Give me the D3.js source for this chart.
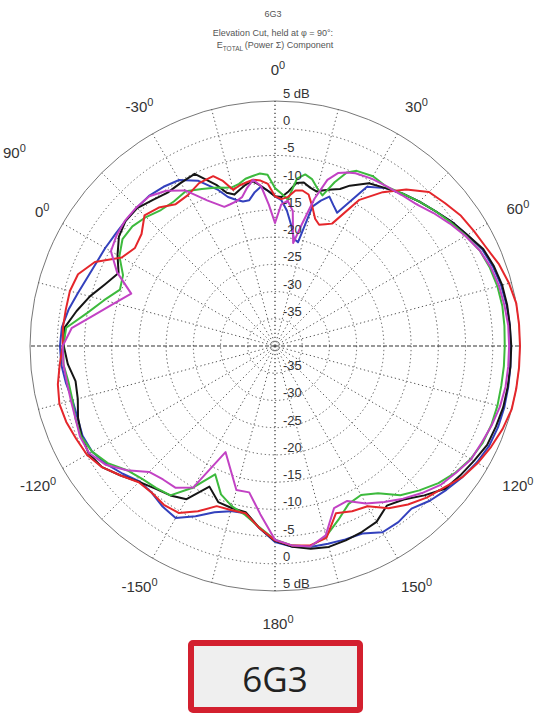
<!DOCTYPE html>
<html><head><meta charset="utf-8">
<script src="https://cdn.jsdelivr.net/npm/d3@7"></script>
<style>html,body{margin:0;padding:0;background:#fff;}svg{display:block;}</style>
</head><body>
<script>
// ---- data (angle in degrees, clockwise from top; values in dB) ----
const angles = [-180,-175,-170,-165,-160,-155,-150,-145,-140,-135,-130,-125,-120,-115,-110,-105,-100,-95,-90,-85,-80,-75,-70,-65,-60,-55,-50,-45,-40,-35,-30,-25,-20,
  -17.5,-15,-12.5,-10,-7.5,-5,-2.5,0,2.5,5,7.5,10,12.5,15,17.5,20,22.5,
  25,30,35,40,45,50,55,60,65,70,75,80,85,90,95,100,105,110,115,120,125,130,135,140,145,150,155,160,165,170,175,180];

const blackDb = [-4.2,-6.5,-9,-9.2,-9.5,-11.5,-7.5,-6.5,-5.8,-4.7,-3,-1.2,-0.5,-0.8,-1.5,-2.5,-2.8,-1.8,-1.2,-1.2,-3,-4.8,-6.8,-8.3,-6.6,-5,-4.2,-4.2,-5,-5.6,-5.4,-5.1,-8.5,
  -10.5,-11.2,-10.5,-9.8,-9.5,-10.5,-11.5,-12.5,-12.6,-11.5,-9.8,-9.5,-10.2,-10.6,-10,-9.4,-8.8,
  -7.5,-5.5,-4.6,-3.5,-2.5,-1.5,-0.3,0.8,2.2,2.8,3.2,3.3,3.3,3.4,3.4,3.4,3.4,3.2,3,2.2,1.5,0.8,-1.2,-3.2,-4.2,-2.7,-2.3,-2,-1.8,-2.2,-3,-4.2];

const blueDb = [-4,-6.5,-8.8,-8.6,-7.5,-5.5,-3.5,-4,-4.8,-4.8,-3.5,-2.2,-1.2,-1,-1.4,-1.5,-1,-0.6,-0.5,-0.7,-1.5,-2.5,-3.3,-3.8,-4,-4.2,-4.2,-4.1,-4,-4.3,-4.8,-6.5,-9.5,
  -11.3,-12.2,-12.8,-12.8,-11.5,-10.6,-11.5,-12.5,-13.2,-15,-17.5,-20,-20.5,-13.5,-12,-10.8,-12,
  -13,-6.2,-4.6,-3.5,-2.5,-1.5,-0.3,0.8,2,2.6,3,3.2,3.3,3.3,3.4,3.5,3.6,3.6,3.4,2.8,2,1.1,0.2,-1,-0.5,-0.5,-2,-2.2,-2.4,-2.5,-3,-4];

const redDb = [-4.3,-6.5,-8.8,-8.8,-8.7,-6.5,-4.6,-4.4,-4.8,-4.6,-3,-1.2,-0.1,0.3,0.8,1,0.5,-0.3,-1,-0.9,-1,-1,-1.5,-3.5,-7.5,-8.6,-8,-6.1,-6.8,-8.2,-8,-7,-6.8,
  -8.2,-10.3,-9.8,-9.5,-9.2,-9.5,-10.2,-12.5,-13,-12.5,-11.2,-11,-11.5,-13.5,-15.5,-16.3,-15.8,
  -15.2,-9,-5.5,-2.5,0,0.8,1.7,2.2,2.8,3.8,4.5,5,5,5,5,5.2,5,4.5,3.8,3,2,0.5,-0.6,-2,-3.6,-6,-6.5,-7.3,-3.5,-2.8,-3.2,-4.3];

const greenDb = [-4.4,-6.6,-8.5,-9.5,-11,-14,-10,-6.5,-6,-5.5,-4.5,-2.5,-1.2,-0.7,-1,-1.5,-1.5,-1,-1.1,-1.5,-5,-7.5,-9.7,-9.2,-7,-5.8,-5.8,-6.5,-7.4,-7.6,-7.2,-8.2,-9,
  -9.5,-9.8,-9.5,-8.8,-8.5,-8.2,-8.5,-11,-12,-13,-9,-8,-8.6,-10,-11,-8,-5.5,
  -4.5,-4,-4.3,-3.5,-2.5,-1.5,-0.5,0.5,1.5,2,2.3,2.4,2.3,2.2,2.2,2.2,2.3,2.3,2.1,1.5,0.5,-0.8,-2.5,-4.2,-7,-8.4,-8,-6,-3.8,-2.6,-3.2,-4.4];

const magentaDb = [-4.4,-9,-12.7,-12.6,-16,-18.5,-10,-8.2,-8,-7.3,-4.5,-2,-0.6,-0.5,-1,-1.2,-1.2,-1,-1,-2.5,-6.5,-9.5,-11.9,-8,-5.2,-4.5,-4.1,-4,-4.1,-5.2,-7,-10.5,-12.8,
  -12.7,-12.5,-12,-10.5,-9.2,-10.5,-14,-17.4,-14,-13.2,-15,-20.8,-17,-12,-8,-6.2,-5.5,
  -5,-4.5,-4.2,-3.8,-3.2,-2,-0.8,0.4,1.5,2.2,2.6,2.8,3,3,3,3,2.8,2.4,1.9,1.6,0.6,-0.3,-1.8,-3.4,-5,-6.6,-8.6,-8.3,-4,-2.6,-3.2,-4.4];

const seriesNames = ["blue","black","green","red","magenta"];
const seriesColors = ["#3341bd","#151515","#3dba3d","#e5262b","#c242c4"];
const seriesValues = [blueDb, blackDb, greenDb, redDb, magentaDb];

const ringTicks = [5,0,-5,-10,-15,-20,-25,-30,-35];
const ringLabels = ["5 dB","0","-5","-10","-15","-20","-25","-30","-35"];
const spokeAngles = d3.range(0,360,15);
const angleTicks = [0,30,60,120,150,180,-150,-120,-30];
const angleTickLabels = ["0","30","60","120","150","180","-150","-120","-30"];
const titleLines = ["6G3","Elevation Cut, held at \u03c6 = 90\u00b0:"];
const badgeText = "6G3";

// ---- layout ----
const W = 539, H = 714, cx = 275, cy = 346, R = 245;
const svg = d3.select("body").append("svg").attr("width",W).attr("height",H);
const rScale = d3.scaleLinear().domain([-40,5]).range([0,R]).clamp(true);
const rad = d => d*Math.PI/180;
const g = svg.append("g").attr("transform",`translate(${cx},${cy})`);

// rings
g.selectAll("circle.ring").data(ringTicks.filter(d=>d<5)).join("circle")
  .attr("class","ring").attr("r",d=>rScale(d)).attr("fill","none")
  .attr("stroke","#555").attr("stroke-width",1).attr("stroke-dasharray","1.3,2.7");
g.append("circle").attr("r",rScale(5)).attr("fill","none").attr("stroke","#777").attr("stroke-width",1);

// spokes
g.selectAll("line.spoke").data(spokeAngles).join("line")
  .attr("class","spoke")
  .attr("x1",0).attr("y1",0)
  .attr("x2",d=>R*Math.sin(rad(d))).attr("y2",d=>-R*Math.cos(rad(d)))
  .attr("stroke",d=> d%90===0 ? "#333" : "#555")
  .attr("stroke-width",d=> d%90===0 ? 1.2 : 1)
  .attr("stroke-dasharray",d=> d===90||d===270 ? "4,2" : "1.3,2.7");

// series lines
const line = d3.lineRadial()
  .angle((d,i)=>rad(angles[i]))
  .radius(d=>rScale(d))
  .curve(d3.curveLinear);
g.selectAll("path.series").data(seriesValues).join("path")
  .attr("class","series")
  .attr("d",d=>line(d))
  .attr("fill","none")
  .attr("stroke",(d,i)=>seriesColors[i])
  .attr("stroke-width",2)
  .attr("stroke-linejoin","round");

// ring labels (top and bottom)
const lblFont = "'Liberation Sans', Arial, sans-serif";
ringTicks.forEach((t,i)=>{
  [-1,1].forEach(s=>{
    svg.append("text").attr("x",cx+8).attr("y",cy + s*rScale(t) - 3)
      .attr("font-family",lblFont).attr("font-size",13).attr("fill","#333")
      .text(ringLabels[i]);
  });
});

// angle labels
function degLabel(x,y,txt,anchor){
  const t = svg.append("text").attr("x",x).attr("y",y)
    .attr("font-family",lblFont).attr("font-size",15).attr("fill","#333")
    .attr("text-anchor",anchor||"middle");
  t.append("tspan").text(txt);
  t.append("tspan").attr("font-size",11).attr("dy",-6).text("0");
  return t;
}
angleTicks.forEach((a,i)=>{
  const r = 277;
  const x = cx + r*Math.sin(rad(a)) + 3;
  const y = cy - r*Math.cos(rad(a)) + 6;
  degLabel(x,y,angleTickLabels[i]);
});
// partially hidden labels on the left edge
degLabel(3,158,"90","start");
degLabel(35,217,"0","start");

// title
svg.append("text").attr("x",cx-2).attr("y",17).attr("text-anchor","middle")
  .attr("font-family",lblFont).attr("font-size",9).attr("fill","#555").text(titleLines[0]);
svg.append("text").attr("x",cx-2).attr("y",36).attr("text-anchor","middle")
  .attr("font-family",lblFont).attr("font-size",9).attr("fill","#555").text(titleLines[1]);
const t3 = svg.append("text").attr("x",cx).attr("y",48).attr("text-anchor","middle")
  .attr("font-family",lblFont).attr("font-size",9).attr("fill","#555");
t3.append("tspan").text("E");
t3.append("tspan").attr("font-size",6.5).attr("dy",3).text("TOTAL ");
t3.append("tspan").attr("dy",-3).text(" (Power \u03a3) Component");

// badge
svg.append("rect").attr("x",191).attr("y",643).attr("width",169).attr("height",67)
  .attr("rx",2).attr("fill","#efefef").attr("stroke","#d3202f").attr("stroke-width",6);
svg.append("text").attr("x",275).attr("y",692).attr("text-anchor","middle")
  .attr("font-family","'Open Sans', 'Liberation Sans', sans-serif").attr("font-size",35)
  .attr("fill","#222").text(badgeText);
</script>
</body></html>
